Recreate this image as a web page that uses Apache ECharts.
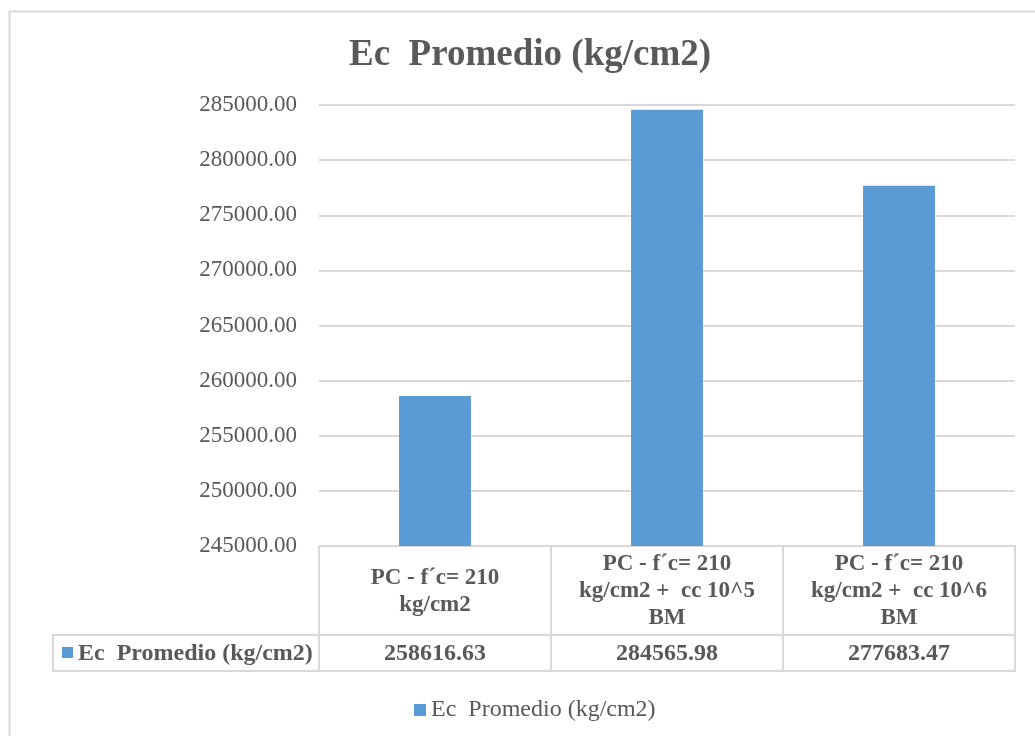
<!DOCTYPE html>
<html>
<head>
<meta charset="utf-8">
<script src="https://cdn.jsdelivr.net/npm/echarts@6/dist/echarts.min.js"></script>
<style>
html,body{margin:0;padding:0;background:#fff;}
#chart{width:1035px;height:736px;}
</style>
</head>
<body>
<div id="chart"></div>
<script>
const titleText = 'Ec  Promedio (kg/cm2)';
const seriesName = 'Ec  Promedio (kg/cm2)';
const categories = [
  'PC - f\u00b4c= 210\nkg/cm2',
  'PC - f\u00b4c= 210\nkg/cm2 +  cc 10^5\nBM',
  'PC - f\u00b4c= 210\nkg/cm2 +  cc 10^6\nBM'
];
const values = [258616.63, 284565.98, 277683.47];
const yMin = 245000, yMax = 285000, yStep = 5000;

const FONT = "'Liberation Serif', 'Times New Roman', serif";
const GRAY = '#595959';
const LINE = '#d9d9d9';
const BLUE = '#5b9bd5';

const chart = echarts.init(document.getElementById('chart'), null, {renderer: 'canvas'});

const HEADER_FRAC = 89 / 125;
const LEFT_CELL_X = 53;

function renderTable(params, api) {
  const i = api.value(0);
  const v = api.value(1);
  const cs = params.coordSys;
  const cx = api.coord([i, 0])[0];
  const w = api.size([1, 0])[0];
  const x0 = cx - w / 2;
  const yTop = cs.y;
  const hH = cs.height * HEADER_FRAC;
  const yMid = yTop + hH;
  const yBot = cs.y + cs.height;
  const children = [
    {type: 'rect', shape: {x: x0, y: yTop, width: w, height: hH},
     style: {fill: 'none', stroke: LINE, lineWidth: 2}},
    {type: 'rect', shape: {x: x0, y: yMid, width: w, height: yBot - yMid},
     style: {fill: 'none', stroke: LINE, lineWidth: 2}},
    {type: 'text', style: {text: categories[i], x: cx, y: yTop + hH / 2 + 1,
      align: 'center', verticalAlign: 'middle', lineHeight: 27,
      fontFamily: FONT, fontWeight: 'bold', fontSize: 23, fill: GRAY}},
    {type: 'text', style: {text: v.toFixed(2), x: cx, y: (yMid + yBot) / 2 + 1,
      align: 'center', verticalAlign: 'middle',
      fontFamily: FONT, fontWeight: 'bold', fontSize: 24, fill: GRAY}}
  ];
  if (i === 0) {
    children.push(
      {type: 'rect', shape: {x: LEFT_CELL_X, y: yMid, width: x0 - LEFT_CELL_X, height: yBot - yMid},
       style: {fill: 'none', stroke: LINE, lineWidth: 2}},
      {type: 'rect', shape: {x: LEFT_CELL_X + 9, y: (yMid + yBot) / 2 - 6, width: 11, height: 11},
       style: {fill: BLUE}},
      {type: 'text', style: {text: seriesName, x: LEFT_CELL_X + 25, y: (yMid + yBot) / 2 + 1,
        align: 'left', verticalAlign: 'middle',
        fontFamily: FONT, fontWeight: 'bold', fontSize: 24, fill: GRAY}}
    );
  }
  return {type: 'group', children: children};
}

const option = {
  backgroundColor: '#fff',
  animation: false,
  title: {
    text: titleText, left: 344, top: 32,
    textStyle: {fontFamily: FONT, fontWeight: 'bold', fontSize: 37, color: GRAY}
  },
  legend: {
    data: [seriesName], left: 409, top: 693,
    itemWidth: 12, itemHeight: 12, itemGap: 4,
    icon: 'rect',
    textStyle: {fontFamily: FONT, fontSize: 24, color: GRAY}
  },
  graphic: [{
    type: 'rect', left: 7, top: 9, shape: {width: 1100, height: 800},
    style: {fill: 'none', stroke: LINE, lineWidth: 2}, silent: true, z: -1
  }],
  grid: [
    {left: 319, right: 20, top: 105, bottom: 190},
    {left: 319, right: 20, top: 546, height: 125}
  ],
  xAxis: [
    {type: 'category', gridIndex: 0, data: categories,
     axisLine: {show: false}, axisTick: {show: false}, axisLabel: {show: false}},
    {type: 'category', gridIndex: 1, data: categories,
     axisLine: {show: false}, axisTick: {show: false}, axisLabel: {show: false}}
  ],
  yAxis: [
    {type: 'value', gridIndex: 0, min: yMin, max: yMax, interval: yStep,
     axisLine: {show: false}, axisTick: {show: false},
     axisLabel: {margin: 22, fontFamily: FONT, fontSize: 23, color: GRAY,
       padding: [4, 0, 0, 0], formatter: v => v.toFixed(2)},
     splitLine: {lineStyle: {color: LINE, width: 2}}},
    {type: 'value', gridIndex: 1, min: 0, max: 1, show: false}
  ],
  series: [
    {name: seriesName, type: 'bar', xAxisIndex: 0, yAxisIndex: 0,
     data: values, barWidth: '31%', itemStyle: {color: BLUE}},
    {name: 'table', type: 'custom', xAxisIndex: 1, yAxisIndex: 1, clip: false,
     data: values.map((v, i) => [i, v]), renderItem: renderTable, silent: true}
  ]
};
chart.setOption(option);
</script>
</body>
</html>
